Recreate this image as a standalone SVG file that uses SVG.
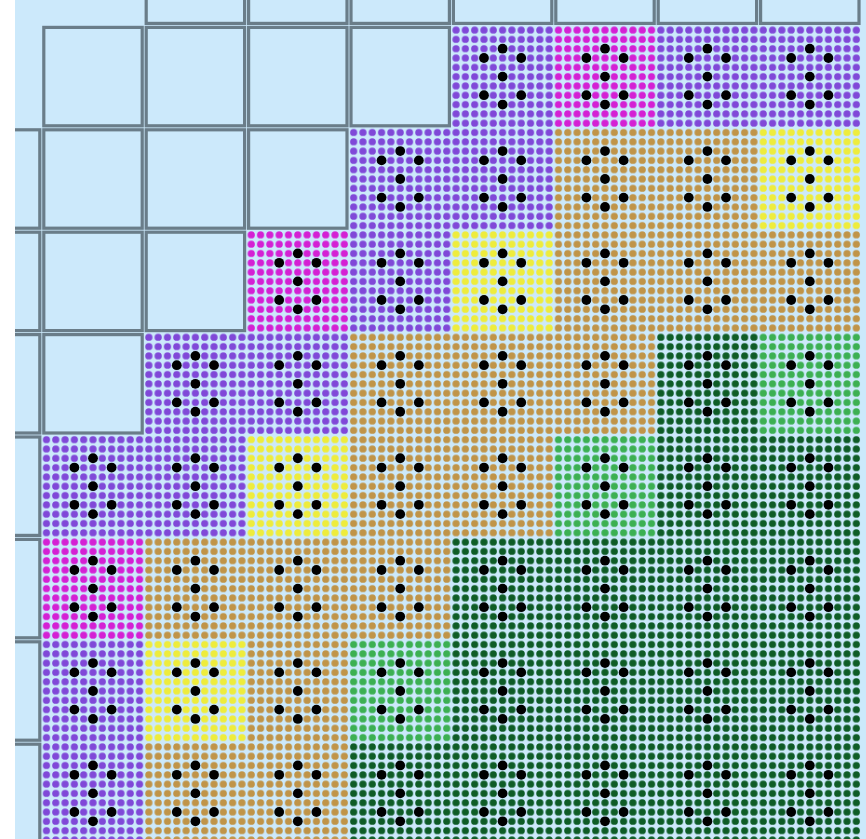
<svg xmlns="http://www.w3.org/2000/svg" xmlns:xlink="http://www.w3.org/1999/xlink" width="866" height="839" viewBox="0 0 866 839">
<style>
.cell{fill:#cce9fb;stroke:#6a7d89;stroke-width:3.2}
.pu{fill:url(#ppu)}
.mg{fill:url(#pmg)}
.tn{fill:url(#ptn)}
.ye{fill:url(#pye)}
.dg{fill:url(#pdg)}
.lg{fill:url(#plg)}
</style>
<defs>
<clipPath id="clip"><rect x="15" y="0" width="851" height="839"/></clipPath>
<pattern id="ppu" patternUnits="userSpaceOnUse" x="41.8" y="25.4" width="9.309" height="9.309"><circle cx="4.655" cy="4.655" r="3.6" fill="#8048d8"/></pattern>
<pattern id="pmg" patternUnits="userSpaceOnUse" x="41.8" y="25.4" width="9.309" height="9.309"><circle cx="4.655" cy="4.655" r="3.6" fill="#d420d4"/></pattern>
<pattern id="ptn" patternUnits="userSpaceOnUse" x="41.8" y="25.4" width="9.309" height="9.309"><circle cx="4.655" cy="4.655" r="3.6" fill="#c09448"/></pattern>
<pattern id="pye" patternUnits="userSpaceOnUse" x="41.8" y="25.4" width="9.309" height="9.309"><circle cx="4.655" cy="4.655" r="3.6" fill="#eeec3c"/></pattern>
<pattern id="pdg" patternUnits="userSpaceOnUse" x="41.8" y="25.4" width="9.309" height="9.309"><circle cx="4.655" cy="4.655" r="3.6" fill="#0e5c26"/></pattern>
<pattern id="plg" patternUnits="userSpaceOnUse" x="41.8" y="25.4" width="9.309" height="9.309"><circle cx="4.655" cy="4.655" r="3.6" fill="#3cb052"/></pattern>
<g id="gt" fill="#000">
<circle cx="51.2" cy="23.27" r="4.9"/>
<circle cx="32.58" cy="32.58" r="4.9"/>
<circle cx="69.82" cy="32.58" r="4.9"/>
<circle cx="51.2" cy="51.2" r="4.9"/>
<circle cx="32.58" cy="69.82" r="4.9"/>
<circle cx="69.82" cy="69.82" r="4.9"/>
<circle cx="51.2" cy="79.13" r="4.9"/>
</g>
</defs>
<rect x="0" y="0" width="866" height="839" fill="#ffffff"/>
<rect x="15" y="0" width="851" height="839" fill="#cce9fb"/>
<g id="empty-cells" clip-path="url(#clip)">
<rect class="cell" x="146.2" y="-75" width="98.4" height="98.4"/>
<rect class="cell" x="248.6" y="-75" width="98.4" height="98.4"/>
<rect class="cell" x="351" y="-75" width="98.4" height="98.4"/>
<rect class="cell" x="453.4" y="-75" width="98.4" height="98.4"/>
<rect class="cell" x="555.8" y="-75" width="98.4" height="98.4"/>
<rect class="cell" x="658.2" y="-75" width="98.4" height="98.4"/>
<rect class="cell" x="760.6" y="-75" width="98.4" height="98.4"/>
<rect class="cell" x="43.8" y="27.4" width="98.4" height="98.4"/>
<rect class="cell" x="146.2" y="27.4" width="98.4" height="98.4"/>
<rect class="cell" x="248.6" y="27.4" width="98.4" height="98.4"/>
<rect class="cell" x="351" y="27.4" width="98.4" height="98.4"/>
<rect class="cell" x="-58.6" y="129.8" width="98.4" height="98.4"/>
<rect class="cell" x="43.8" y="129.8" width="98.4" height="98.4"/>
<rect class="cell" x="146.2" y="129.8" width="98.4" height="98.4"/>
<rect class="cell" x="248.6" y="129.8" width="98.4" height="98.4"/>
<rect class="cell" x="-58.6" y="232.2" width="98.4" height="98.4"/>
<rect class="cell" x="43.8" y="232.2" width="98.4" height="98.4"/>
<rect class="cell" x="146.2" y="232.2" width="98.4" height="98.4"/>
<rect class="cell" x="-58.6" y="334.6" width="98.4" height="98.4"/>
<rect class="cell" x="43.8" y="334.6" width="98.4" height="98.4"/>
<rect class="cell" x="-58.6" y="437" width="98.4" height="98.4"/>
<rect class="cell" x="-58.6" y="539.4" width="98.4" height="98.4"/>
<rect class="cell" x="-58.6" y="641.8" width="98.4" height="98.4"/>
<rect class="cell" x="-58.6" y="744.2" width="98.4" height="98.4"/>
</g>
<g id="assemblies">
<g id="a-r0">
<rect class="pu" x="451.4" y="25.4" width="102.4" height="102.4"/>
<rect class="mg" x="553.8" y="25.4" width="102.4" height="102.4"/>
<rect class="pu" x="656.2" y="25.4" width="102.4" height="102.4"/>
<rect class="pu" x="758.6" y="25.4" width="102.4" height="102.4"/>
</g>
<g id="a-r1">
<rect class="pu" x="349" y="127.8" width="102.4" height="102.4"/>
<rect class="pu" x="451.4" y="127.8" width="102.4" height="102.4"/>
<rect class="tn" x="553.8" y="127.8" width="102.4" height="102.4"/>
<rect class="tn" x="656.2" y="127.8" width="102.4" height="102.4"/>
<rect class="ye" x="758.6" y="127.8" width="102.4" height="102.4"/>
</g>
<g id="a-r2">
<rect class="mg" x="246.6" y="230.2" width="102.4" height="102.4"/>
<rect class="pu" x="349" y="230.2" width="102.4" height="102.4"/>
<rect class="ye" x="451.4" y="230.2" width="102.4" height="102.4"/>
<rect class="tn" x="553.8" y="230.2" width="102.4" height="102.4"/>
<rect class="tn" x="656.2" y="230.2" width="102.4" height="102.4"/>
<rect class="tn" x="758.6" y="230.2" width="102.4" height="102.4"/>
</g>
<g id="a-r3">
<rect class="pu" x="144.2" y="332.6" width="102.4" height="102.4"/>
<rect class="pu" x="246.6" y="332.6" width="102.4" height="102.4"/>
<rect class="tn" x="349" y="332.6" width="102.4" height="102.4"/>
<rect class="tn" x="451.4" y="332.6" width="102.4" height="102.4"/>
<rect class="tn" x="553.8" y="332.6" width="102.4" height="102.4"/>
<rect class="dg" x="656.2" y="332.6" width="102.4" height="102.4"/>
<rect class="lg" x="758.6" y="332.6" width="102.4" height="102.4"/>
</g>
<g id="a-r4">
<rect class="pu" x="41.8" y="435" width="102.4" height="102.4"/>
<rect class="pu" x="144.2" y="435" width="102.4" height="102.4"/>
<rect class="ye" x="246.6" y="435" width="102.4" height="102.4"/>
<rect class="tn" x="349" y="435" width="102.4" height="102.4"/>
<rect class="tn" x="451.4" y="435" width="102.4" height="102.4"/>
<rect class="lg" x="553.8" y="435" width="102.4" height="102.4"/>
<rect class="dg" x="656.2" y="435" width="204.8" height="102.4"/>
</g>
<g id="a-r5">
<rect class="mg" x="41.8" y="537.4" width="102.4" height="102.4"/>
<rect class="tn" x="144.2" y="537.4" width="307.2" height="102.4"/>
<rect class="dg" x="451.4" y="537.4" width="409.6" height="102.4"/>
</g>
<g id="a-r6">
<rect class="pu" x="41.8" y="639.8" width="102.4" height="102.4"/>
<rect class="ye" x="144.2" y="639.8" width="102.4" height="102.4"/>
<rect class="tn" x="246.6" y="639.8" width="102.4" height="102.4"/>
<rect class="lg" x="349" y="639.8" width="102.4" height="102.4"/>
<rect class="dg" x="451.4" y="639.8" width="409.6" height="102.4"/>
</g>
<g id="a-r7">
<rect class="pu" x="41.8" y="742.2" width="102.4" height="102.4"/>
<rect class="tn" x="144.2" y="742.2" width="204.8" height="102.4"/>
<rect class="dg" x="349" y="742.2" width="512" height="102.4"/>
</g>
</g>
<g id="guide-tubes">
<use href="#gt" x="451.4" y="25.4"/><use href="#gt" x="553.8" y="25.4"/><use href="#gt" x="656.2" y="25.4"/><use href="#gt" x="758.6" y="25.4"/>
<use href="#gt" x="349" y="127.8"/><use href="#gt" x="451.4" y="127.8"/><use href="#gt" x="553.8" y="127.8"/><use href="#gt" x="656.2" y="127.8"/><use href="#gt" x="758.6" y="127.8"/>
<use href="#gt" x="246.6" y="230.2"/><use href="#gt" x="349" y="230.2"/><use href="#gt" x="451.4" y="230.2"/><use href="#gt" x="553.8" y="230.2"/><use href="#gt" x="656.2" y="230.2"/><use href="#gt" x="758.6" y="230.2"/>
<use href="#gt" x="144.2" y="332.6"/><use href="#gt" x="246.6" y="332.6"/><use href="#gt" x="349" y="332.6"/><use href="#gt" x="451.4" y="332.6"/><use href="#gt" x="553.8" y="332.6"/><use href="#gt" x="656.2" y="332.6"/><use href="#gt" x="758.6" y="332.6"/>
<use href="#gt" x="41.8" y="435"/><use href="#gt" x="144.2" y="435"/><use href="#gt" x="246.6" y="435"/><use href="#gt" x="349" y="435"/><use href="#gt" x="451.4" y="435"/><use href="#gt" x="553.8" y="435"/><use href="#gt" x="656.2" y="435"/><use href="#gt" x="758.6" y="435"/>
<use href="#gt" x="41.8" y="537.4"/><use href="#gt" x="144.2" y="537.4"/><use href="#gt" x="246.6" y="537.4"/><use href="#gt" x="349" y="537.4"/><use href="#gt" x="451.4" y="537.4"/><use href="#gt" x="553.8" y="537.4"/><use href="#gt" x="656.2" y="537.4"/><use href="#gt" x="758.6" y="537.4"/>
<use href="#gt" x="41.8" y="639.8"/><use href="#gt" x="144.2" y="639.8"/><use href="#gt" x="246.6" y="639.8"/><use href="#gt" x="349" y="639.8"/><use href="#gt" x="451.4" y="639.8"/><use href="#gt" x="553.8" y="639.8"/><use href="#gt" x="656.2" y="639.8"/><use href="#gt" x="758.6" y="639.8"/>
<use href="#gt" x="41.8" y="742.2"/><use href="#gt" x="144.2" y="742.2"/><use href="#gt" x="246.6" y="742.2"/><use href="#gt" x="349" y="742.2"/><use href="#gt" x="451.4" y="742.2"/><use href="#gt" x="553.8" y="742.2"/><use href="#gt" x="656.2" y="742.2"/><use href="#gt" x="758.6" y="742.2"/>
</g>
</svg>
